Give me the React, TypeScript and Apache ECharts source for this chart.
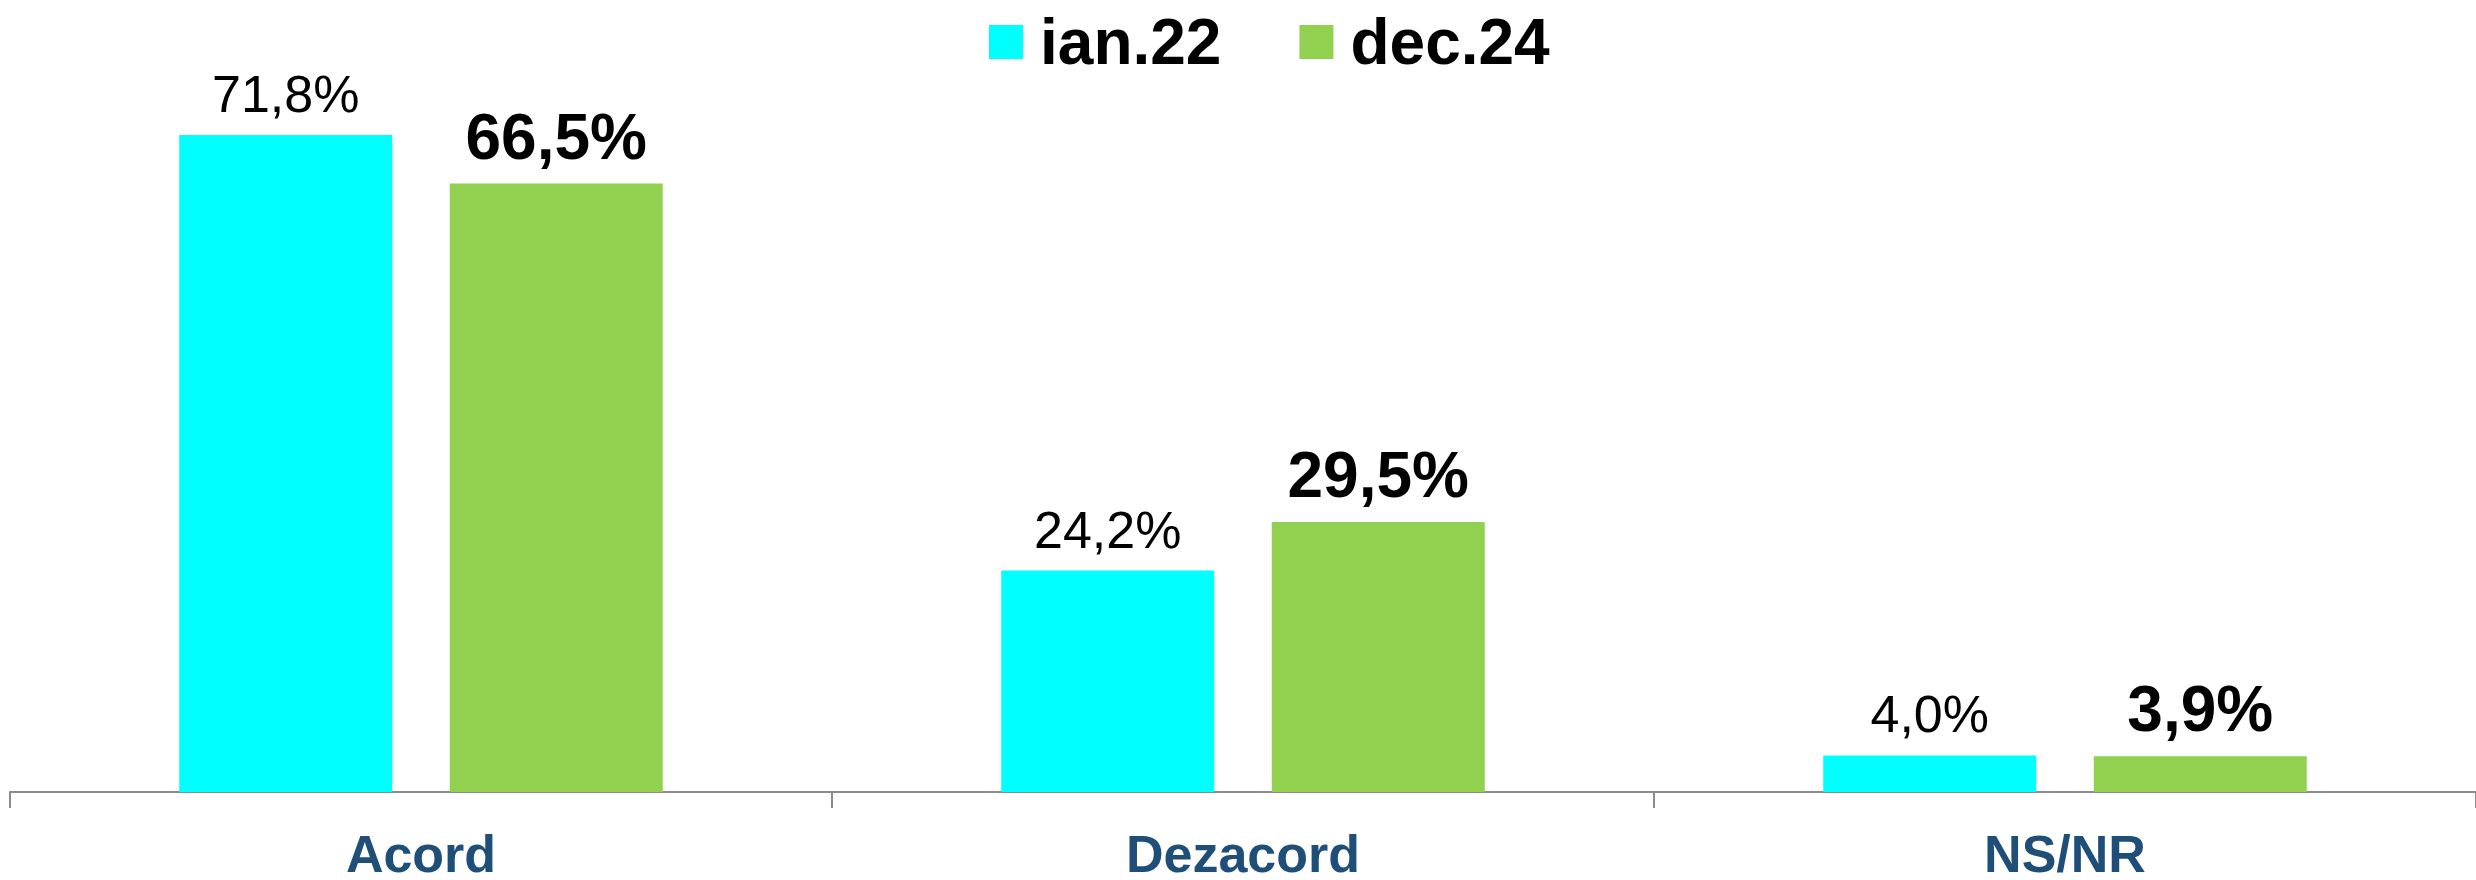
import React, { useEffect, useRef } from "react";
import * as echarts from "echarts";

const categories = ["Acord", "Dezacord", "NS/NR"];
const seriesNames = ["ian.22", "dec.24"];
const ian22 = [71.8, 24.2, 4.0];
const dec24 = [66.5, 29.5, 3.9];

const FONT = "'Liberation Sans', Arial, sans-serif";
const fmt = (p: any) => p.value.toFixed(1).replace(".", ",") + "%";

export default function App() {
  const ref = useRef<HTMLDivElement>(null);
  useEffect(() => {
    document.body.style.margin = "0";
    const chart = echarts.init(ref.current!, null, { renderer: "svg" });
    chart.setOption({
      animation: false,
      legend: {
        data: seriesNames,
        top: 5,
        left: 984,
        icon: "rect",
        itemWidth: 34,
        itemHeight: 34,
        itemGap: 78,
        textStyle: { fontSize: 64, fontWeight: "bold", fontFamily: FONT, color: "#000", padding: [0, 0, 0, 12] },
      },
      grid: { left: 10, top: 60, width: 2475, height: 737, containLabel: false },
      xAxis: {
        type: "category",
        data: categories,
        axisLine: { show: true, lineStyle: { color: "#8c8c8c", width: 2 } },
        axisTick: { show: true, length: 16, lineStyle: { color: "#8c8c8c", width: 2 } },
        axisLabel: { margin: 36, fontSize: 52, fontWeight: "bold", color: "#1F4E79", fontFamily: FONT },
      },
      yAxis: { type: "value", min: 0, max: 80, show: false, splitLine: { show: false } },
      series: [
        {
          name: seriesNames[0],
          type: "bar",
          data: ian22,
          barWidth: 213,
          barGap: "27%",
          itemStyle: { color: "#00FFFF" },
          label: { show: true, position: "top", distance: 15, formatter: fmt, fontSize: 52, color: "#000", fontFamily: FONT },
        },
        {
          name: seriesNames[1],
          type: "bar",
          data: dec24,
          barWidth: 213,
          barGap: "27%",
          itemStyle: { color: "#92D050" },
          label: { show: true, position: "top", distance: 15, formatter: fmt, fontSize: 64, fontWeight: "bold", color: "#000", fontFamily: FONT },
        },
      ],
    });
    return () => chart.dispose();
  }, []);
  return <div ref={ref} style={{ position: "absolute", left: 0, top: 0, width: 2476, height: 880 }} />;
}
